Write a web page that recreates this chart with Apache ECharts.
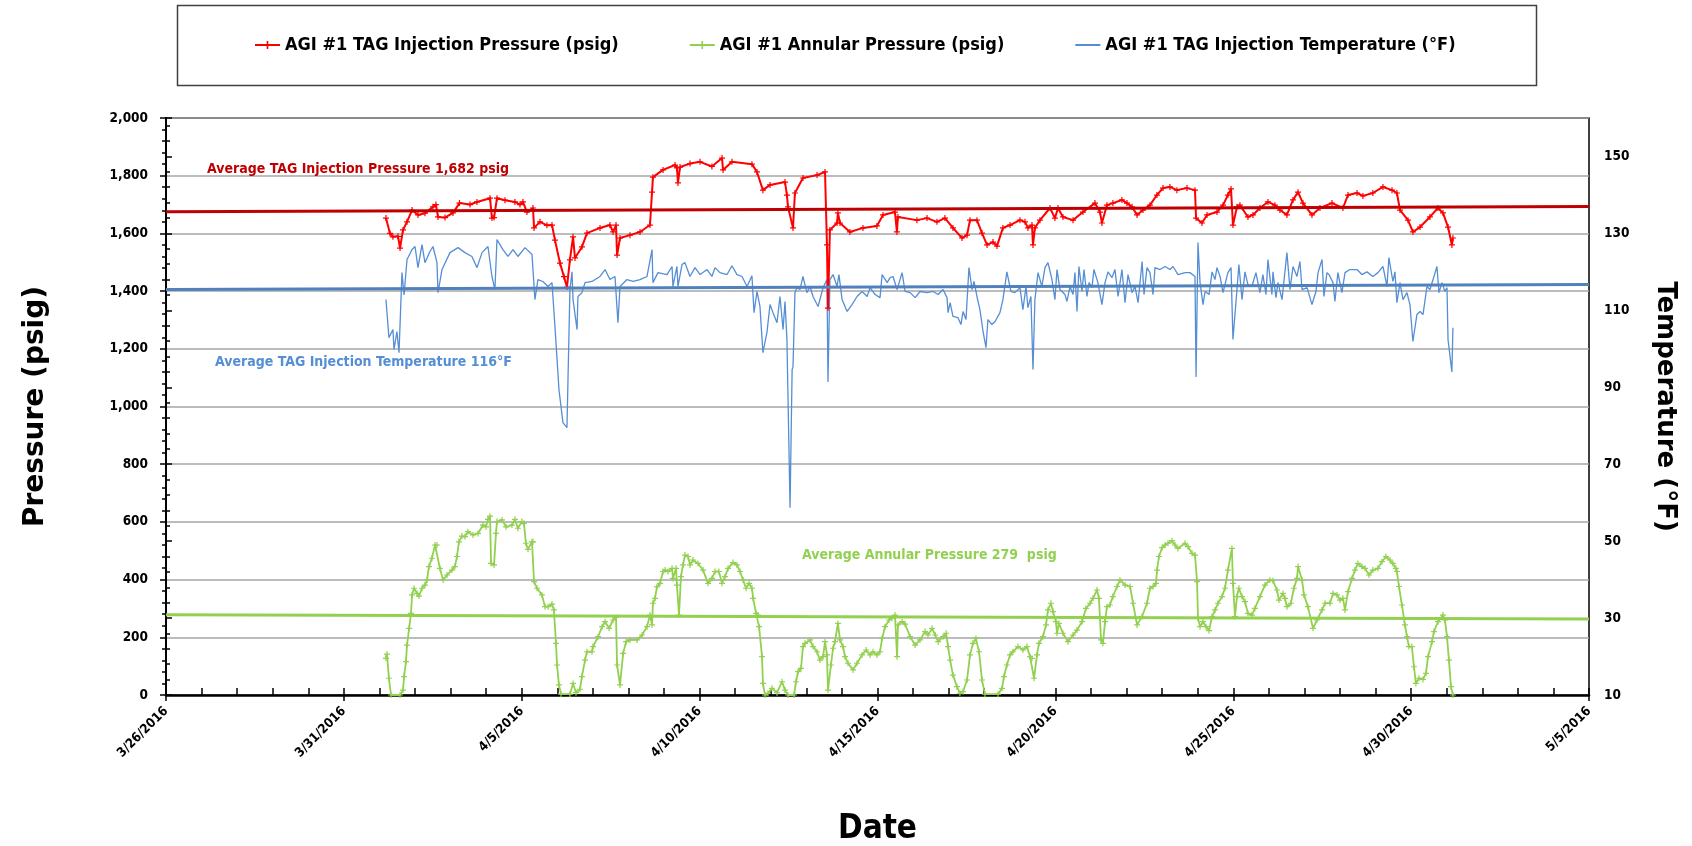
<!DOCTYPE html>
<html><head><meta charset="utf-8">
<script src="https://cdn.jsdelivr.net/npm/echarts@6/dist/echarts.min.js"></script>
<style>html,body{margin:0;padding:0;background:#fff}#c{width:1692px;height:846px}</style>
</head><body><div id="c"></div><script>
// Time values: hours elapsed since 4/1/2016 00:00
const injPressure = [[4.4,1653],[7.1,1600],[9.1,1588],[12.5,1590],[13.9,1549],[15.9,1612],[18.6,1640],[22,1681],[26,1664],[30.7,1670],[36.1,1692],[38.1,1700],[39.5,1657],[44.2,1655],[49.6,1671],[54,1705],[61.1,1700],[65.8,1709],[74.6,1722],[75.9,1653],[77.3,1655],[79.3,1722],[84.7,1715],[91.4,1709],[94.8,1700],[96.8,1709],[99.5,1674],[103.6,1688],[104.3,1619],[108.3,1640],[113,1628],[116.4,1629],[118.4,1577],[121.8,1497],[124.5,1450],[126.5,1414],[128.5,1508],[130.6,1588],[131.9,1515],[136.6,1553],[140,1601],[148.8,1619],[155.5,1629],[157.6,1605],[159.6,1629],[160.3,1525],[162.3,1584],[169,1594],[175.8,1605],[182.5,1629],[183.9,1743],[184.5,1795],[191.3,1820],[199.4,1837],[200.7,1827],[201.4,1775],[202.8,1830],[209.5,1842],[216.3,1848],[224.3,1832],[231.1,1861],[231.8,1820],[237.8,1848],[251.3,1840],[254.7,1813],[258.7,1750],[263.5,1768],[273.6,1778],[274.9,1733],[275.6,1692],[279,1619],[280.3,1740],[285.7,1792],[295.2,1802],[300.6,1813],[301.9,1560],[302.6,1341],[303.9,1612],[308.7,1636],[309.3,1671],[310.7,1636],[317.4,1605],[326.2,1619],[335.6,1626],[339.7,1664],[347.8,1674],[349.1,1605],[349.8,1657],[362.6,1646],[369.4,1653],[376.1,1640],[381.5,1653],[386.9,1619],[393,1584],[396.4,1594],[398.4,1646],[403.1,1646],[406.5,1601],[409.9,1560],[413.9,1570],[416.6,1556],[420.6,1619],[425.4,1629],[432.1,1646],[435.5,1640],[437.5,1619],[440.2,1629],[440.9,1560],[442.2,1619],[445.6,1646],[452.4,1688],[455.7,1653],[457.8,1688],[461.1,1657],[467.9,1646],[474.6,1674],[482.7,1705],[486.1,1674],[487.4,1636],[490.8,1698],[494.8,1705],[500.9,1716],[504.3,1705],[507.7,1692],[511.1,1664],[515.1,1681],[519.8,1698],[524.5,1733],[528.6,1757],[533.3,1761],[538,1750],[544.8,1757],[550.2,1750],[550.9,1653],[554.9,1636],[558.3,1664],[565,1674],[569.1,1698],[572.4,1733],[574.5,1754],[575.8,1629],[578.5,1692],[580.5,1698],[585.9,1657],[589.3,1664],[594,1688],[599.4,1709],[604.1,1698],[607.5,1681],[612.2,1664],[616.3,1716],[619.7,1743],[623,1705],[629.1,1664],[634.5,1688],[642.6,1705],[650,1688],[653.4,1733],[659.5,1740],[663.5,1730],[670.2,1740],[677,1761],[683.1,1750],[686.4,1740],[688.5,1681],[693.9,1646],[697.2,1605],[702,1622],[708.7,1657],[714.1,1688],[717.5,1671],[720.9,1622],[723.5,1560],[724.2,1584]];

const annularPressure = [[4.4,127],[5.1,142],[6.4,58],[7.8,0],[13.9,0],[15.9,17],[16.6,64],[17.9,116],[18.6,173],[20,231],[21.3,283],[22,347],[23.3,370],[25.4,352],[26.7,343],[28.7,370],[30.7,381],[32.1,399],[33.4,445],[35.4,474],[37.5,520],[38.8,520],[40.8,439],[42.9,399],[45.6,416],[48.9,433],[50.9,445],[52.3,480],[53.6,531],[55.6,551],[57.7,549],[59.7,566],[63.1,555],[66.5,560],[69.8,589],[71.9,583],[73.2,609],[74.6,620],[75.3,456],[77.3,451],[78.6,560],[79.3,601],[82.7,607],[85.4,583],[89.4,589],[91.4,609],[93.4,578],[96.1,601],[97.5,595],[98.8,526],[100.2,505],[102.9,531],[103.6,531],[104.3,393],[106.3,370],[109.6,347],[111.7,306],[113.7,306],[116.4,315],[117.7,295],[119.1,179],[119.8,104],[121.1,35],[122.5,3],[128.5,3],[130.6,40],[132.6,8],[135.3,20],[136.6,64],[138.7,121],[140,150],[143.4,150],[144.1,168],[147.5,202],[150.2,237],[152.2,254],[154.9,231],[157.6,260],[159.6,269],[160.3,104],[162.3,35],[164.4,144],[166.4,185],[169,191],[173.8,191],[177.2,208],[180.5,237],[182.5,277],[183.9,243],[184.5,318],[185.9,335],[187.2,375],[189.3,387],[191.3,428],[192.7,433],[194.7,428],[197.4,439],[198,404],[200.1,439],[200.7,381],[202.1,277],[203.4,410],[204.8,451],[206.1,485],[208.2,480],[209.5,451],[211.5,468],[214.9,456],[218.3,433],[221.7,387],[224.3,404],[226.4,428],[229,428],[231.1,387],[233.1,410],[235.2,439],[238.5,459],[241.2,451],[243.3,428],[245.3,399],[247.3,370],[249.4,387],[251.3,370],[252.1,335],[254.1,283],[255.4,277],[256.1,237],[258.1,133],[258.7,40],[260.1,0],[262.1,6],[264.8,23],[268.2,8],[271.6,46],[273.6,17],[275.6,0],[279.7,0],[281,46],[282.4,81],[284.4,92],[285.7,168],[287.1,179],[290.5,191],[292.5,168],[295.2,150],[297.2,121],[299.3,133],[300.6,185],[301.9,139],[302.6,17],[304.6,104],[306,162],[307.3,185],[309.3,248],[310.7,191],[312.7,168],[314.1,133],[316.1,110],[319.5,87],[322.2,110],[325.6,139],[328.3,156],[331,139],[333,150],[335.6,139],[337.7,150],[339.1,196],[341.1,237],[343.8,260],[345.8,266],[347.8,277],[349.2,133],[349.8,243],[352.6,254],[354.6,246],[358,202],[361.4,173],[364.7,191],[368.1,220],[370.1,208],[372.8,231],[374.9,208],[376.9,185],[380.2,202],[382.3,214],[383.6,168],[385,121],[386.9,69],[389.6,29],[391.6,6],[393.7,12],[396.4,52],[398.4,139],[400.4,179],[402.4,196],[404.5,150],[406.5,52],[408.5,3],[417.3,3],[420,23],[421.3,64],[423.3,104],[425.4,139],[427.4,150],[430.8,168],[434.1,156],[436.8,168],[438.9,133],[440.2,127],[441.6,58],[443.6,139],[444.9,179],[447.6,202],[449.7,243],[451,295],[453,318],[454.4,289],[456.4,254],[457.1,214],[458.4,248],[461.1,214],[464.5,185],[467.9,208],[470.6,225],[474,254],[476.6,300],[479.4,318],[481.4,335],[484.1,364],[485.4,335],[486.8,191],[488.1,179],[489.5,254],[490.8,306],[492.8,312],[494.8,341],[497.6,376],[499.6,399],[503,381],[506.4,376],[508.4,318],[511.1,243],[514.5,272],[517.8,318],[519.8,370],[521.9,376],[523.9,387],[524.6,433],[525.9,480],[528,511],[530,520],[532,526],[534.7,535],[536.7,520],[538.7,508],[543.5,526],[545.5,514],[548.2,491],[550.2,485],[551.6,393],[552.2,266],[553.6,237],[555.6,254],[557.6,237],[559.7,223],[561.7,272],[563.7,295],[565.7,318],[568.4,341],[570.4,370],[572.4,433],[575.1,508],[575.8,387],[577.2,272],[578.5,341],[579.8,370],[581.9,341],[583.9,324],[585.9,283],[588.6,277],[590.6,300],[594,341],[597.4,381],[600.7,399],[602.8,396],[605.5,364],[606.8,329],[609.5,352],[610.9,335],[612.2,306],[614.9,318],[616.9,370],[619,404],[619.7,445],[622.4,399],[623.7,347],[626.4,306],[629.8,231],[632.5,260],[635.9,295],[637.9,318],[641.3,318],[643.3,352],[646,347],[648,329],[650,335],[651.4,295],[653.4,358],[656.1,404],[658.1,433],[660.1,456],[662.8,445],[664.9,439],[667.6,416],[670.2,433],[673.6,439],[676.3,462],[679,480],[681.7,468],[683.7,456],[685.7,439],[686.4,428],[687.8,376],[689.8,312],[691.8,243],[693.2,202],[694.5,168],[696.5,168],[697.9,98],[699.2,40],[701.3,58],[704,54],[706,75],[707.4,133],[710.1,185],[711.4,220],[714.1,254],[717.5,277],[718.8,260],[720.2,202],[721.5,121],[722.9,29],[724.2,0]];

const injTemperature = [[4.4,112.8],[6.4,102.9],[9.1,105],[9.8,99.8],[11.8,104.5],[13.2,99],[15.2,119.8],[16.6,114],[18.6,123.2],[22,125.8],[24,126.6],[26,121.1],[28.7,127.1],[30.7,122.4],[34.1,125.3],[36.1,126.6],[38.8,122.4],[39.5,114.6],[42.2,120.6],[47.6,125],[53,126.3],[57.7,125],[62.4,124],[65.8,121.1],[69.2,125],[73.2,126.6],[75.9,118.8],[77.9,115.4],[79.3,128.4],[83.3,125.8],[86.7,124],[90.1,125.8],[93.4,124],[98.2,126.3],[102.9,124.5],[104.9,112.8],[106.9,118],[110.3,117.5],[113.7,116.2],[116.4,117.2],[118.4,105.8],[121.1,89.4],[123.8,80.8],[126.5,79.5],[127.2,92],[128.5,115.4],[129.9,120],[130.6,112.8],[133.3,105],[133.9,113.6],[136.6,114.6],[138.7,117.2],[143.4,117.5],[148.8,118.8],[152.2,120.6],[155.5,118],[158.9,118.8],[160.9,106.8],[162.3,116.2],[167,118],[171.1,117.5],[175.8,118],[180.5,118.8],[183.9,125.8],[184.5,117.2],[187.9,119.8],[194,119.3],[197.4,121.4],[198,116.2],[200.7,121.4],[201.4,116.2],[204.1,121.9],[206.1,122.4],[209.5,118.8],[212.9,121.1],[216.3,119.3],[221,120.6],[224.3,118.8],[226.4,121.1],[229.7,119.8],[234.5,119.3],[237.8,121.6],[241.2,119.3],[244.6,118.8],[248,116.2],[251.3,119],[252.7,109.4],[254.7,114.9],[256.7,111],[258.7,99],[261.4,104.2],[263.5,111.5],[265.5,109.4],[268.2,106.8],[270.2,113.6],[272.3,105],[273.6,112.3],[274.9,102.4],[277,58.7],[278.4,94.6],[279,95.3],[280.3,114.6],[281.7,115.9],[283.7,115.4],[285.7,118.8],[288.4,114.6],[290.5,116.2],[292.5,113.6],[295.9,111],[299.3,115.9],[300.6,115.4],[301.9,118],[302.6,91.4],[303.9,118],[306,119.3],[308.7,116.2],[310,119.3],[312.1,112.8],[315.5,109.7],[318.8,111.5],[322.2,113.6],[325.6,114.9],[329,113.6],[331,115.9],[334.4,114.1],[337.7,113.3],[339.1,119.3],[342.5,117.2],[344.5,118.5],[346.5,118.8],[349.2,115.4],[352.6,119.8],[354.6,114.9],[358,114.6],[361.4,113.3],[364.7,114.9],[369.4,114.6],[373.5,114.9],[376.9,114.1],[380.2,115.4],[382.9,113.3],[383.6,109.4],[385,112],[386.9,108.4],[390.3,108.1],[392.3,106.3],[393.7,109.7],[395.7,107.6],[397.7,121.1],[399.8,115.4],[401.1,117.5],[403.1,113.6],[405.1,110.2],[407.2,104.5],[409.2,100.3],[410.5,107.6],[413.2,106.3],[415.3,107.1],[418.6,109.4],[420.6,112.8],[423.3,120],[426,114.9],[428.7,114.6],[432.1,115.9],[434.1,110.2],[436.2,116.2],[437.5,110.7],[439.5,113.6],[440.9,94.6],[442.2,112.8],[444.3,119.8],[446.9,116.2],[449,121.1],[451,122.4],[453.7,118],[455.7,112.8],[457.1,120.6],[459.1,115.4],[462.5,114.1],[463.8,112.3],[465.9,116.2],[467.9,114.1],[469.2,119.8],[470.6,109.7],[471.9,121.4],[474,114.9],[475.3,120.6],[477.3,113.6],[478.7,117.2],[480.7,115.9],[482,120.6],[484.7,117.2],[487.4,111.5],[489.5,117.2],[491.5,120],[494.2,118.5],[496.2,120.6],[498.3,113.6],[500.9,120.6],[503,112],[505,119.3],[507.7,114.6],[509.7,116.2],[511.8,112],[514.5,122.7],[515.8,114.1],[517.8,121.1],[519.8,119.8],[521.9,114.1],[523.2,121.1],[526.6,120.6],[530,121.4],[533.3,120.6],[535.4,121.4],[538.7,119.3],[543.5,119.8],[546.8,119.8],[550.2,118.8],[550.9,92.7],[552.2,127.6],[553.6,117.2],[555.6,111.5],[557,114.9],[559.7,114.1],[561.7,120],[563.7,118],[565,121.1],[567.1,118.8],[569.1,114.6],[572.4,119.8],[574.5,121.1],[575.8,102.4],[578.5,115.4],[579.8,121.9],[581.9,112.8],[583.9,120],[585.9,116.7],[588.6,116.2],[591.3,119.8],[594,114.6],[596,119.3],[598.1,114.1],[599.4,123.2],[602.1,114.1],[602.8,120],[604.8,113.3],[606.2,117.2],[608.9,112.8],[612.2,125],[614.3,115.4],[616.3,121.4],[619,118.8],[621,122.7],[622.4,115.4],[625.8,115.9],[629.1,111.5],[631.8,114.9],[633.2,119.8],[635.9,123.2],[637.2,113.6],[639.2,119.8],[640.6,119.3],[643.3,117.2],[644.6,112.3],[646.6,119.8],[649.3,114.6],[651.4,119.8],[654.7,120.6],[659.5,120.6],[662.8,119.3],[666.2,120],[670.2,118.8],[673.6,119.8],[677,121.4],[679.7,116.2],[681,123.7],[683.7,117.5],[685.1,120],[686.4,112],[688.5,117.2],[690.5,112.8],[693.2,114.6],[695.2,111.5],[697.2,101.9],[699.9,108.9],[702,109.7],[704,108.9],[706.7,116.2],[708.7,115.4],[710.8,118],[713.4,121.4],[714.8,114.6],[716.8,117.2],[718.8,114.9],[720.2,115.9],[720.9,102.4],[723.5,94],[724.2,105.5]];

// Trend (average) lines: endpoints at 3/26/2016 and 5/5/2016 (hours since 4/1)
const pressureTrend = [[-144,1675],[816,1693]];
const temperatureTrend = [[-144,115.4],[816,116.7]];
const annularTrend = [[-144,278],[816,263]];

const dateLabels = ['3/26/2016','3/31/2016','4/5/2016','4/10/2016','4/15/2016','4/20/2016','4/25/2016','4/30/2016','5/5/2016'];
const seriesNames = ['AGI #1 TAG Injection Pressure (psig)','AGI #1 Annular Pressure (psig)','AGI #1 TAG Injection Temperature (°F)'];
const noteTexts = ['Average TAG Injection Pressure 1,682 psig','Average TAG Injection Temperature 116°F','Average Annular Pressure 279  psig'];

const HOURS_BEFORE_APR1 = 144;
const toDay = h => (HOURS_BEFORE_APR1 + h) / 24;
const conv = arr => arr.map(([h, v]) => [toDay(h), v]);
const addCommas = v => String(v).replace(/\B(?=(\d{3})+(?!\d))/g, ',');

const FONT = "'Liberation Sans Narrow','DejaVu Sans Condensed','Roboto Condensed',sans-serif";
const PLUS = 'path://M2,0H3V2H5V3H3V5H2V3H0V2H2Z';

const chart = echarts.init(document.getElementById('c'), null, {renderer: 'canvas'});
const lblStyle = {fontFamily: FONT, fontWeight: 'bold', color: '#000'};
chart.setOption({
  animation: false,
  backgroundColor: '#fff',
  grid: {left: 166, right: 103, top: 118, bottom: 151, show: true, borderColor: '#000', borderWidth: 1.5, backgroundColor: 'transparent', outerBoundsMode: 'none', containLabel: false},
  legend: {
    data: [
      {name: seriesNames[0]},
      {name: seriesNames[1]},
      {name: seriesNames[2], itemStyle: {opacity: 0}}
    ],
    left: 254, top: 36, padding: 0, itemWidth: 25, itemHeight: 10, itemGap: 70,
    textStyle: {fontFamily: FONT, fontWeight: 'bold', fontSize: 18, color: '#000'}
  },
  xAxis: [{
    type: 'value', min: 0, max: 40, interval: 5, position: 'bottom',
    axisLine: {show: true, onZero: false, lineStyle: {color: '#000', width: 2.5}},
    axisTick: {show: true, inside: true, length: 7, lineStyle: {color: '#000', width: 1.5}},
    minorTick: {show: true, splitNumber: 5, length: 7, lineStyle: {color: '#000', width: 1.5}},
    splitLine: {show: false},
    axisLabel: Object.assign({rotate: 45, margin: 14, fontSize: 13, formatter: v => dateLabels[Math.round(v / 5)] || ''}, lblStyle),
    name: 'Date', nameLocation: 'middle', nameGap: 118,
    nameTextStyle: {fontFamily: FONT, fontWeight: 'bold', fontSize: 33, color: '#000'}
  }, {
    type: 'value', min: 0, max: 40, interval: 5, position: 'bottom',
    axisLine: {show: false}, axisLabel: {show: false}, splitLine: {show: false},
    axisTick: {show: true, inside: false, length: 6, lineStyle: {color: '#000', width: 1.5}}
  }],
  yAxis: [{
    type: 'value', min: 0, max: 2000, interval: 200, position: 'left',
    axisLine: {show: true, lineStyle: {color: '#000', width: 2}},
    axisTick: {show: true, length: 6, lineStyle: {color: '#000', width: 1.5}},
    minorTick: {show: true, splitNumber: 5, length: 4, lineStyle: {color: '#000', width: 1.5}},
    splitLine: {show: true, lineStyle: {color: '#A6A6A6', width: 1.5}},
    axisLabel: Object.assign({margin: 18, fontSize: 13.5, formatter: v => addCommas(v)}, lblStyle),
    name: 'Pressure (psig)', nameLocation: 'middle', nameRotate: 90, nameGap: 116,
    nameTextStyle: {fontFamily: 'DejaVu Sans', fontWeight: 'bold', fontSize: 28, color: '#000'}
  }, {
    type: 'value', min: 10, max: 160, interval: 20, position: 'right',
    axisLine: {show: true, lineStyle: {color: '#000', width: 2}},
    axisTick: {show: true, length: 6, lineStyle: {color: '#000', width: 1.5}},
    minorTick: {show: true, splitNumber: 5, length: 4, lineStyle: {color: '#000', width: 1.5}},
    splitLine: {show: false},
    axisLabel: Object.assign({margin: 15, fontSize: 13.5, showMaxLabel: false}, lblStyle),
    name: 'Temperature (°F)', nameLocation: 'middle', nameRotate: -90, nameGap: 63,
    nameTextStyle: {fontFamily: 'DejaVu Sans', fontWeight: 'bold', fontSize: 26, color: '#000'}
  }],
  series: [{
    name: seriesNames[0], type: 'line', xAxisIndex: 0, yAxisIndex: 0, data: conv(injPressure),
    symbol: PLUS, symbolSize: 6, showSymbol: true, showAllSymbol: true,
    lineStyle: {color: '#FF0000', width: 2}, itemStyle: {color: '#FF0000'}, z: 3
  }, {
    name: seriesNames[1], type: 'line', xAxisIndex: 0, yAxisIndex: 0, data: conv(annularPressure),
    symbol: PLUS, symbolSize: 6, showSymbol: true, showAllSymbol: true,
    lineStyle: {color: '#92D050', width: 1.8}, itemStyle: {color: '#92D050'}, z: 3
  }, {
    name: seriesNames[2], type: 'line', xAxisIndex: 0, yAxisIndex: 1, data: conv(injTemperature),
    symbol: 'none', lineStyle: {color: '#558ED5', width: 1.3}, itemStyle: {color: '#558ED5'}, z: 2
  }, {
    name: 'pressureTrend', type: 'line', yAxisIndex: 0, data: conv(pressureTrend), symbol: 'none', silent: true,
    lineStyle: {color: '#C00000', width: 3}, z: 4
  }, {
    name: 'temperatureTrend', type: 'line', yAxisIndex: 1, data: conv(temperatureTrend), symbol: 'none', silent: true,
    lineStyle: {color: '#4F81BD', width: 3}, z: 4
  }, {
    name: 'annularTrend', type: 'line', yAxisIndex: 0, data: conv(annularTrend), symbol: 'none', silent: true,
    lineStyle: {color: '#92D050', width: 3}, z: 4
  }],
  graphic: [
    {type: 'rect', shape: {x: 177.5, y: 5.5, width: 1359, height: 80}, style: {fill: 'none', stroke: '#404040', lineWidth: 1.5}, silent: true},
    {type: 'text', x: 207, y: 169, style: {text: noteTexts[0], fill: '#C00000', font: "bold 14px " + FONT, verticalAlign: 'middle'}, z: 10},
    {type: 'text', x: 215, y: 362, style: {text: noteTexts[1], fill: '#558ED5', font: "bold 14px " + FONT, verticalAlign: 'middle'}, z: 10},
    {type: 'text', x: 802, y: 555, style: {text: noteTexts[2], fill: '#92D050', font: "bold 14px " + FONT, verticalAlign: 'middle'}, z: 10}
  ]
});
</script></body></html>
